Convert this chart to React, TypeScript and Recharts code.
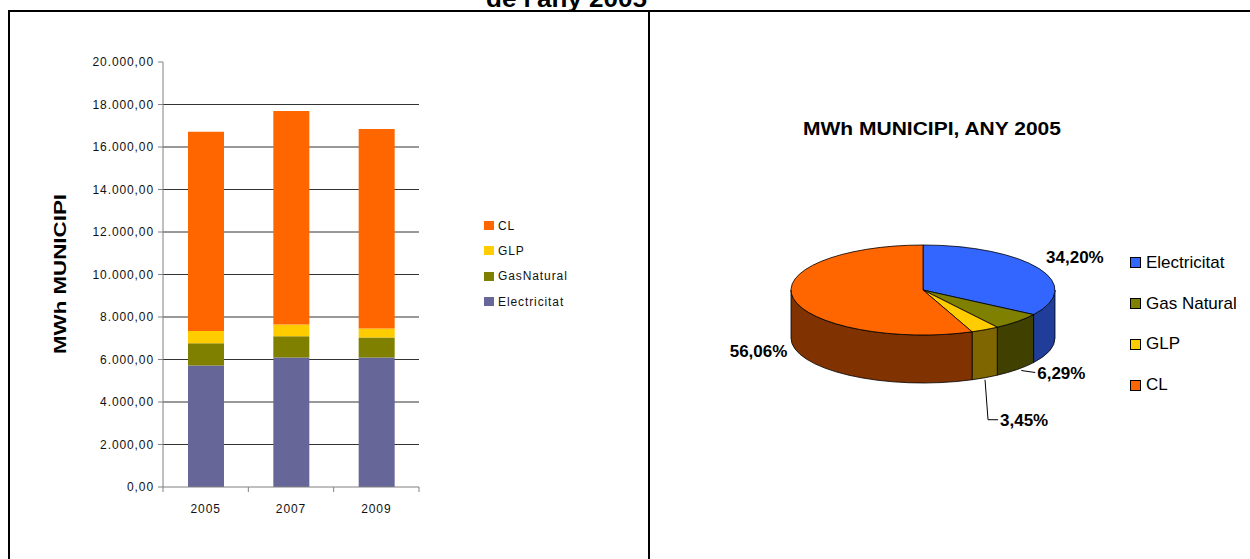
import React from 'react';
import { BarChart, Bar, XAxis, YAxis, CartesianGrid, PieChart, Pie, Cell } from 'recharts';

const FONT = '"Liberation Sans", Arial, sans-serif';

// bar chart: MWh per year and source
const years = ['2005', '2007', '2009'];
const electricitat = [5715, 6100, 6100];
const gasNatural = [1050, 990, 940];
const glp = [577, 560, 420];
const cl = [9370, 10050, 9390];
const yTicks = [0, 2000, 4000, 6000, 8000, 10000, 12000, 14000, 16000, 18000, 20000];

const barSeries = [
  { key: 'electricitat', name: 'Electricitat', values: electricitat, color: '#666699' },
  { key: 'gasNatural', name: 'GasNatural', values: gasNatural, color: '#808000' },
  { key: 'glp', name: 'GLP', values: glp, color: '#FFCC00' },
  { key: 'cl', name: 'CL', values: cl, color: '#FF6600' },
];

// pie chart: share of 2005
const pieNames = ['Electricitat', 'Gas Natural', 'GLP', 'CL'];
const pieShares = [34.2, 6.29, 3.45, 56.06];
const pieTopColors = ['#3366FF', '#808000', '#FFCC00', '#FF6600'];
const pieSideColors = ['#1F3D99', '#404000', '#806600', '#803300'];

const barData = years.map((year, i) => {
  const row: Record<string, string | number> = { year };
  barSeries.forEach((s) => {
    row[s.key] = s.values[i];
  });
  return row;
});

const pieData = pieNames.map((name, i) => ({ name, value: pieShares[i] }));

const PLOT_W = 256;
const RAD = Math.PI / 180;
const TILT = 45 / 132;
const DEPTH = 48;

const formatNumber = (v: number) => {
  const [int, dec] = v.toFixed(2).split('.');
  return int.replace(/\B(?=(\d{3})+(?!\d))/g, '.') + ',' + dec;
};

const XTick = ({ x, y, payload, index }: any) => {
  const band = PLOT_W / years.length;
  const edges = [x - band / 2];
  if (index === years.length - 1) edges.push(x + band / 2);
  return (
    <g>
      {edges.map((ex) => (
        <line key={ex} x1={ex} x2={ex} y1={y} y2={y + 5} stroke="#808080" />
      ))}
      <text x={x} y={y + 26} textAnchor="middle" fontSize={12} fill="#111" fontFamily={FONT} letterSpacing={0.9}>
        {payload.value}
      </text>
    </g>
  );
};

const Slice3D = (p: any) => {
  const { cx, cy, outerRadius, startAngle, endAngle } = p;
  const i = pieNames.indexOf(p.payload?.name ?? p.name);
  const rx = outerRadius;
  const ry = outerRadius * TILT;
  const pt = (a: number, dy = 0) =>
    `${cx + rx * Math.cos(a * RAD)},${cy - ry * Math.sin(a * RAD) + dy}`;
  const hi = Math.max(startAngle, endAngle);
  const lo = Math.min(startAngle, endAngle);
  const large = hi - lo > 180 ? 1 : 0;
  const top = `M${cx},${cy} L${pt(hi)} A${rx},${ry} 0 ${large} 1 ${pt(lo)} Z`;
  // front wall only where the rim faces the viewer
  const wHi = Math.min(hi, 0);
  const wLo = Math.max(lo, -180);
  const wall =
    wLo < wHi
      ? `M${pt(wHi)} A${rx},${ry} 0 0 1 ${pt(wLo)} L${pt(wLo, DEPTH)} A${rx},${ry} 0 0 0 ${pt(wHi, DEPTH)} Z`
      : null;
  return (
    <g>
      {wall && <path d={wall} fill={pieSideColors[i]} stroke="#000" strokeWidth={0.8} />}
      <path d={top} fill={pieTopColors[i]} stroke="#000" strokeWidth={0.8} />
    </g>
  );
};

const renderPieLabel = (p: any) => {
  const { cx, cy, midAngle, outerRadius, percent } = p;
  const i = pieNames.indexOf(p.payload?.name ?? p.name);
  const rx = outerRadius;
  const ry = outerRadius * TILT;
  const c = Math.cos(midAngle * RAD);
  const s = Math.sin(midAngle * RAD);
  const front = s < 0;
  const ex = cx + rx * c;
  const ey = cy - ry * s + (front ? DEPTH : 0);
  const text = pieShares[i].toFixed(2).replace('.', ',') + '%';
  const common = {
    fontSize: 17,
    fontWeight: 700,
    fill: '#000',
    fontFamily: FONT,
    dominantBaseline: 'central' as const,
  };
  if (percent >= 0.1) {
    return (
      <text
        x={ex + (c >= 0 ? 7 : -6)}
        y={ey + (front ? 5 : -11)}
        textAnchor={c >= 0 ? 'start' : 'end'}
        {...common}
      >
        {text}
      </text>
    );
  }
  if (percent >= 0.05) {
    return (
      <g>
        <polyline points={`${ex + 4},${ey + 1} ${ex + 18},${ey + 3}`} stroke="#000" fill="none" />
        <text x={ex + 20} y={ey + 4} textAnchor="start" {...common}>
          {text}
        </text>
      </g>
    );
  }
  return (
    <g>
      <polyline
        points={`${ex},${ey + 2} ${ex + 3},${ey + 42} ${ex + 13},${ey + 42}`}
        stroke="#000"
        fill="none"
      />
      <text x={ex + 15} y={ey + 43} textAnchor="start" {...common}>
        {text}
      </text>
    </g>
  );
};

export default function App() {
  return (
    <div
      style={{
        position: 'absolute',
        left: 0,
        top: 0,
        width: 1250,
        height: 559,
        background: '#fff',
        overflow: 'hidden',
        fontFamily: FONT,
      }}
    >
      <svg width={1250} height={559} style={{ position: 'absolute', left: 0, top: 0 }}>
        <text x={647} y={7} textAnchor="end" fontSize={24} fontWeight={700} fontFamily={FONT} textLength={161} lengthAdjust="spacingAndGlyphs">
          de l'any 2005
        </text>
        <line x1={8} x2={1250} y1={11} y2={11} stroke="#000" strokeWidth={2} />
        <line x1={9} x2={9} y1={10} y2={559} stroke="#000" strokeWidth={2} />
        <line x1={649} x2={649} y1={10} y2={559} stroke="#000" strokeWidth={2} />
        <text
          x={60}
          y={274}
          transform="rotate(-90 60 274)"
          textAnchor="middle"
          dominantBaseline="central"
          fontSize={16}
          fontWeight={700}
          fontFamily={FONT}
          textLength={160}
          lengthAdjust="spacingAndGlyphs"
        >
          MWh MUNICIPI
        </text>
        <text x={932} y={135} textAnchor="middle" fontSize={19} fontWeight={700} fontFamily={FONT} textLength={258} lengthAdjust="spacingAndGlyphs">
          MWh MUNICIPI, ANY 2005
        </text>
      </svg>

      <div style={{ position: 'absolute', left: 0, top: 0 }}>
        <BarChart width={650} height={559} data={barData} margin={{ top: 62, right: 231, bottom: 42, left: 63 }}>
          <CartesianGrid vertical={false} horizontalValues={yTicks.slice(1, -1)} stroke="#333" />
          <XAxis
            dataKey="year"
            height={30}
            interval={0}
            tickLine={false}
            tickSize={0}
            tickMargin={0}
            axisLine={{ stroke: '#808080' }}
            tick={(props: any) => <XTick {...props} />}
          />
          <YAxis
            type="number"
            domain={[0, 20000]}
            ticks={yTicks}
            interval={0}
            width={100}
            tickFormatter={formatNumber}
            tickSize={5}
            tickMargin={4}
            axisLine={{ stroke: '#808080' }}
            tickLine={{ stroke: '#808080' }}
            tick={{ fontSize: 12, fill: '#111', fontFamily: FONT, letterSpacing: 0.9 }}
          />
          {barSeries.map((s) => (
            <Bar key={s.key} dataKey={s.key} name={s.name} stackId="a" fill={s.color} barSize={36} isAnimationActive={false} />
          ))}
        </BarChart>
      </div>

      <div style={{ position: 'absolute', left: 484, top: 213 }}>
        {[...barSeries].reverse().map((s) => (
          <div key={s.key} style={{ display: 'flex', alignItems: 'center', height: 25.3 }}>
            <span style={{ width: 10, height: 9, background: s.color, display: 'inline-block' }} />
            <span style={{ marginLeft: 4, fontSize: 12, letterSpacing: 0.9, color: '#111' }}>{s.name}</span>
          </div>
        ))}
      </div>

      <div style={{ position: 'absolute', left: 650, top: 0 }}>
        <PieChart width={600} height={559} margin={{ top: 0, right: 0, bottom: 0, left: 0 }}>
          <Pie
            data={pieData}
            dataKey="value"
            nameKey="name"
            cx={273}
            cy={290}
            outerRadius={132}
            startAngle={90}
            endAngle={-270}
            stroke="none"
            isAnimationActive={false}
            label={renderPieLabel}
            labelLine={false}
            shape={Slice3D}
            activeShape={Slice3D}
            inactiveShape={Slice3D}
          >
            {pieData.map((d, i) => (
              <Cell key={d.name} fill={pieTopColors[i]} />
            ))}
          </Pie>
        </PieChart>
      </div>

      <div style={{ position: 'absolute', left: 1130, top: 242.6 }}>
        {pieNames.map((name, i) => (
          <div key={name} style={{ display: 'flex', alignItems: 'center', height: 40.7 }}>
            <span
              style={{
                width: 9,
                height: 9,
                background: pieTopColors[i],
                border: '1px solid #000',
                display: 'inline-block',
              }}
            />
            <span style={{ marginLeft: 5, fontSize: 17, color: '#000' }}>{name}</span>
          </div>
        ))}
      </div>
    </div>
  );
}
